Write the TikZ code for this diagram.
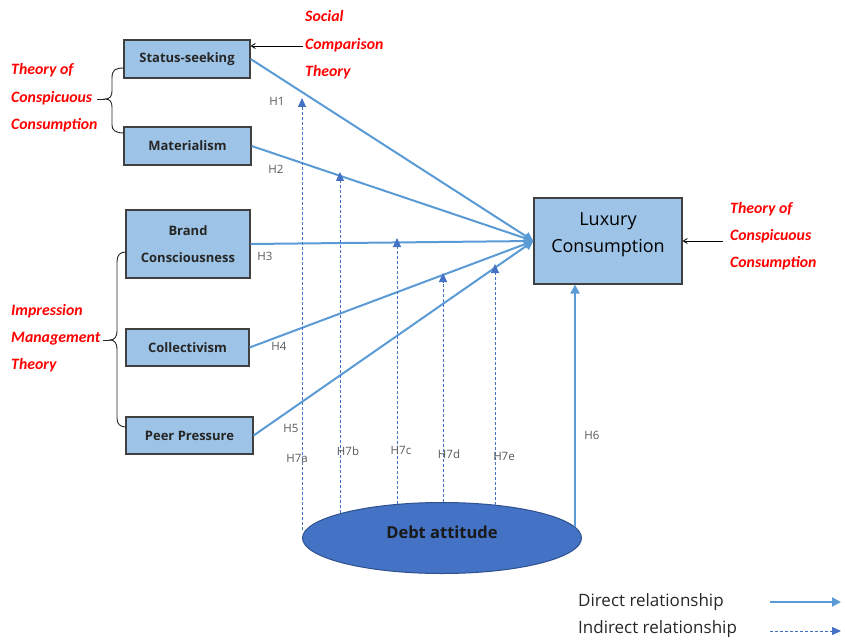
\documentclass[tikz,border=0pt]{standalone}
\usepackage{fontspec}
\setmainfont{Open Sans}
\newfontfamily\redfont{Carlito}
\usetikzlibrary{arrows.meta,shapes.geometric}
\definecolor{boxfill}{HTML}{9DC3E6}
\definecolor{boxdraw}{HTML}{404040}
\definecolor{dirc}{HTML}{5B9BD5}
\definecolor{indc}{HTML}{4472C4}
\definecolor{ellc}{HTML}{4472C4}
\definecolor{ellb}{HTML}{2F528F}
\definecolor{hgray}{HTML}{595959}
\definecolor{redtxt}{HTML}{FF0000}
\begin{document}
\begin{tikzpicture}[x=1pt,y=-1pt,
  box/.style={draw=boxdraw, line width=1.2pt, fill=boxfill, align=center, inner sep=0pt,
    font=\bfseries\fontsize{13}{27}\selectfont, text=black!85},
  theory/.style={anchor=west, align=left, text=redtxt, inner sep=0pt,
    font=\redfont\bfseries\itshape\fontsize{15.8}{27.3}\selectfont},
  hlab/.style={text=hgray, font=\fontsize{11.5}{13}\selectfont, inner sep=0pt},
  direct/.style={draw=dirc, line width=2pt, -{Triangle[length=9pt,width=9pt]}},
  indirect/.style={draw=indc, line width=1pt, dash pattern=on 3pt off 2pt, -{Triangle[length=9pt,width=8pt]}},
  thinarrow/.style={draw=black, line width=0.8pt, -{Straight Barb[length=4pt,width=5pt]}},
  brace/.style={draw=black!85, line width=0.9pt}
]
\useasboundingbox (0,0) rectangle (845,644);

% boxes
\node[box, minimum width=126pt, minimum height=38pt] (ss) at (187,59) {Status-seeking};
\node[box, minimum width=127pt, minimum height=38pt] (mat) at (187.5,146) {Materialism};
\node[box, minimum width=124pt, minimum height=68pt] (brand) at (188,244) {Brand\\Consciousness};
\node[box, minimum width=123pt, minimum height=37pt] (coll) at (187.5,347.5) {Collectivism};
\node[box, minimum width=127pt, minimum height=37pt] (peer) at (189.5,435.5) {Peer Pressure};
\node[box, minimum width=148pt, minimum height=86pt] (lux) at (608,241) {};
\node[align=center, inner sep=0pt, text=black, font=\fontsize{18}{27}\selectfont] (luxt) at (608,235) {Luxury\\Consumption};
\node[ellipse, draw=ellb, line width=1pt, fill=ellc, minimum width=279pt, minimum height=71pt, inner sep=0pt] (debt) at (442,538) {};
\node[inner sep=0pt, font=\bfseries\fontsize{16.5}{20}\selectfont, text=black!90] (debtt) at (442,532) {Debt attitude};

% theory labels
\node[theory] (soc) at (305,45) {Social\\Comparison\\Theory};
\node[theory] (tcc) at (11,98) {Theory of\\Conspicuous\\Consumption};
\node[theory] (imt) at (11,338) {Impression\\Management\\Theory};
\node[theory] (tcc2) at (730,236) {Theory of\\Conspicuous\\Consumption};

% theory arrows
\coordinate (socA) at (303,46);
\draw[thinarrow] (socA) -- (socA -| ss.east);
\coordinate (tccA) at (723,241);
\draw[thinarrow] (tccA) -- (lux.east);

% braces
\draw[brace] (124,68) .. controls (115,68) and (112,70) .. (112,78) -- (112,91)
  .. controls (112,96) and (110,99) .. (105,99) .. controls (110,99) and (112,102) .. (112,107)
  -- (112,125) .. controls (112,130) and (115,133) .. (124,133);
\draw[brace] (105,99) -- (97,99);
\draw[brace] (126,252) .. controls (120,252) and (117,255) .. (117,262) -- (117,331)
  .. controls (117,336) and (115,340) .. (110,340) .. controls (115,340) and (117,344) .. (117,349)
  -- (117,418) .. controls (117,424) and (120,427) .. (126,427);
\draw[brace] (110,340) -- (103,340);

% direct relationships
\draw[direct] (ss.east) -- (lux.west);
\draw[direct] (mat.east) -- (lux.west);
\draw[direct] (brand.east) -- (lux.west);
\draw[direct] (coll.east) -- (lux.west);
\draw[direct] (peer.east) -- (lux.west);
\coordinate (h6s) at (575,527);
\draw[direct] (h6s) -- (h6s |- lux.south);

% indirect (moderating) relationships
\coordinate (a7s) at (302,530); \coordinate (a7t) at (302,98);
\coordinate (b7s) at (340,513); \coordinate (b7t) at (340,172);
\coordinate (c7s) at (397,504); \coordinate (c7t) at (397,238);
\coordinate (d7s) at (443,502); \coordinate (d7t) at (443,273);
\coordinate (e7s) at (495,505); \coordinate (e7t) at (495,264);
\draw[indirect] (a7s) -- (a7t);
\draw[indirect] (b7s) -- (b7t);
\draw[indirect] (c7s) -- (c7t);
\draw[indirect] (d7s) -- (d7t);
\draw[indirect] (e7s) -- (e7t);

% hypothesis labels
\node[hlab] (h1) at (277,101) {H1};
\node[hlab] (h2) at (276,169) {H2};
\node[hlab] (h3) at (265,256) {H3};
\node[hlab] (h4) at (279,346) {H4};
\node[hlab] (h5) at (291,428) {H5};
\node[hlab] (h6) at (592,435) {H6};
\node[hlab] (h7a) at (297,458) {H7a};
\node[hlab] (h7b) at (348,451) {H7b};
\node[hlab] (h7c) at (401,450) {H7c};
\node[hlab] (h7d) at (449,454) {H7d};
\node[hlab] (h7e) at (504,456) {H7e};

% legend
\node[anchor=west, inner sep=0pt, text=black!85, font=\fontsize{17}{18}\selectfont] (ldir) at (578,602) {Direct relationship};
\node[anchor=west, inner sep=0pt, text=black!85, font=\fontsize{17}{18}\selectfont] (lind) at (578,629) {Indirect relationship};
\coordinate (ld1) at (770,602); \coordinate (ld2) at (841,602);
\coordinate (li1) at (770,631); \coordinate (li2) at (841,631);
\draw[direct] (ld1) -- (ld2);
\draw[indirect] (li1) -- (li2);
\end{tikzpicture}
\end{document}
